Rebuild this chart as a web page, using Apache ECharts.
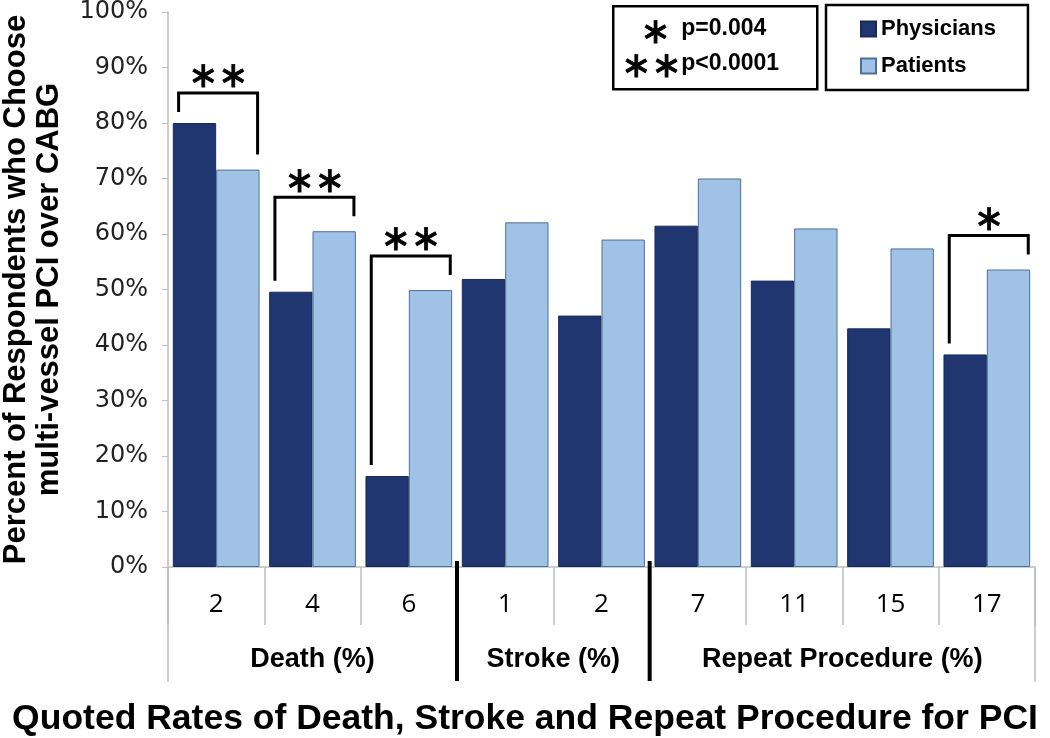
<!DOCTYPE html>
<html>
<head>
<meta charset="utf-8">
<script src="https://cdn.jsdelivr.net/npm/echarts@6/dist/echarts.min.js"></script>
<style>
  html, body { margin: 0; padding: 0; background: #fff; }
  #chart { width: 1050px; height: 738px; }
</style>
</head>
<body>
<div id="chart"></div>
<script>
// quoted rates (x categories) and groups
const categories = ['2', '4', '6', '1', '2', '7', '11', '15', '17'];
const groupNames = ['Death (%)', 'Stroke (%)', 'Repeat Procedure (%)'];
const groupStart = [0, 3, 5];
const groupEnd = [2, 4, 8];

// percent choosing multi-vessel PCI over CABG
const physicians = [80, 49.6, 16.4, 51.9, 45.3, 61.5, 51.6, 43, 38.3];
const patients = [71.6, 60.5, 49.9, 62.1, 59, 70, 61, 57.4, 53.6];

// significance brackets
const sigIndex = [0, 1, 2, 8];
const sigMarks = ['∗∗', '∗∗', '∗∗', '∗'];

const yTicks = [0, 10, 20, 30, 40, 50, 60, 70, 80, 90, 100];

const DARK = '#203670';
const LIGHT = '#a0c2e6';
const FONT = '"Liberation Sans", Arial, sans-serif';
const STAR_FONT = '"DejaVu Sans", sans-serif';

const chart = echarts.init(document.getElementById('chart'));

const option = {
  animation: false,
  backgroundColor: '#fff',
  title: {
    text: 'Quoted Rates of Death, Stroke and Repeat Procedure for PCI',
    left: 'center',
    top: 696,
    textStyle: { fontFamily: FONT, fontWeight: 'bold', fontSize: 35.5, color: '#000' }
  },
  legend: {
    data: ['Physicians', 'Patients'],
    orient: 'vertical',
    left: 826,
    top: 5,
    padding: [13, 32, 13, 34],
    itemGap: 15,
    itemWidth: 15,
    itemHeight: 15,
    borderColor: '#000',
    borderWidth: 2.5,
    icon: 'rect',
    textStyle: { fontFamily: FONT, fontWeight: 'bold', fontSize: 22, color: '#000' }
  },
  grid: { left: 168, right: 15, top: 12, bottom: 171, outerBoundsMode: 'none', containLabel: false },
  xAxis: {
    type: 'category',
    data: categories,
    axisLine: { lineStyle: { color: '#bdbdbd', width: 1.5 } },
    axisTick: { show: true, interval: 0, length: 58, lineStyle: { color: '#bdbdbd', width: 1.5 } },
    axisLabel: { interval: 0, margin: 25, fontFamily: '"Liberation Sans Narrow", "Open Sans", sans-serif', fontSize: 26, color: '#000' }
  },
  yAxis: {
    type: 'value',
    min: 0,
    max: 100,
    interval: 10,
    name: 'Percent of Respondents who Choose\nmulti-vessel PCI over CABG',
    nameLocation: 'middle',
    nameGap: 102,
    nameRotate: 90,
    nameTextStyle: { fontFamily: FONT, fontWeight: 'bold', fontSize: 31, lineHeight: 33, color: '#000' },
    axisLine: { show: true, lineStyle: { color: '#bdbdbd', width: 1.5 } },
    axisTick: { show: true, inside: false, length: 6, lineStyle: { color: '#bdbdbd' } },
    splitLine: { show: false },
    axisLabel: {
      margin: 20,
      fontFamily: '"DejaVu Sans", sans-serif',
      fontSize: 24,
      color: '#222',
      formatter: v => yTicks.indexOf(v) >= 0 ? v + '%' : ''
    }
  },
  series: [
    {
      name: 'Physicians',
      type: 'bar',
      data: physicians,
      barGap: '0%',
      barCategoryGap: '10%',
      itemStyle: { color: DARK, borderColor: '#172a5a', borderWidth: 1 }
    },
    {
      name: 'Patients',
      type: 'bar',
      data: patients,
      itemStyle: { color: LIGHT, borderColor: '#4d7096', borderWidth: 1 }
    },
    {
      name: 'sig',
      type: 'custom',
      silent: true,
      data: sigIndex.map(i => [i, physicians[i]]),
      z: 5,
      renderItem: function (params, api) {
        const idx = api.value(0);
        const cx = api.coord([idx, 0])[0];
        const bw = api.size([1, 0])[0];
        const yL = api.coord([idx, physicians[idx]])[1] - 11;
        const yR = api.coord([idx, patients[idx]])[1] - 15;
        const yT = Math.min(yL, yR) - 19;
        const xL = cx - 0.39 * bw;
        const xR = cx + 0.43 * bw;
        return {
          type: 'group',
          children: [
            {
              type: 'polyline',
              shape: { points: [[xL, yL], [xL, yT], [xR, yT], [xR, yR]] },
              style: { stroke: '#000', lineWidth: 3, fill: null }
            },
            {
              type: 'text',
              x: (xL + xR) / 2,
              y: yT - 15,
              style: {
                text: sigMarks[params.dataIndex],
                align: 'center',
                verticalAlign: 'middle',
                fontFamily: STAR_FONT,
                fontSize: 36,
                fill: '#000',
                stroke: '#000',
                lineWidth: 0.8
              }
            }
          ]
        };
      }
    }
  ]
};

chart.setOption(option);

// category-group rows, separators and the p-value key
const px = i => chart.convertToPixel({ xAxisIndex: 0 }, i);
const bandW = px(1) - px(0);
const y0 = chart.convertToPixel({ yAxisIndex: 0 }, 0);
const edge = i => px(i) + bandW / 2;

const graphics = [];
// outer borders of the category table
graphics.push({
  type: 'line', shape: { x1: px(0) - bandW / 2, y1: y0, x2: px(0) - bandW / 2, y2: y0 + 115 },
  style: { stroke: '#bdbdbd', lineWidth: 1.5 }
});
graphics.push({
  type: 'line', shape: { x1: edge(8), y1: y0, x2: edge(8), y2: y0 + 115 },
  style: { stroke: '#bdbdbd', lineWidth: 1.5 }
});
// thick group separators
for (let g = 0; g < groupEnd.length - 1; g++) {
  const x = edge(groupEnd[g]);
  graphics.push({
    type: 'line', z: 10, shape: { x1: x, y1: y0 - 6, x2: x, y2: y0 + 114 },
    style: { stroke: '#000', lineWidth: 4 }
  });
}
// group labels
groupNames.forEach((name, g) => {
  const x = (px(groupStart[g]) + px(groupEnd[g])) / 2;
  graphics.push({
    type: 'text', x: x, y: y0 + 93,
    style: {
      text: name, align: 'center', verticalAlign: 'middle',
      fontFamily: FONT, fontWeight: 'bold', fontSize: 27, fill: '#000'
    }
  });
});
// p-value key box
graphics.push({
  type: 'group', left: 612, top: 5,
  children: [
    { type: 'rect', shape: { x: 0, y: 0, width: 204, height: 83 }, style: { fill: '#fff', stroke: '#000', lineWidth: 2.5 } },
    { type: 'text', x: 42, y: 27, style: { text: '∗', align: 'center', verticalAlign: 'middle', fontFamily: STAR_FONT, fontSize: 36, fill: '#000', stroke: '#000', lineWidth: 0.8 } },
    { type: 'text', x: 68, y: 22, style: { text: 'p=0.004', align: 'left', verticalAlign: 'middle', fontFamily: FONT, fontWeight: 'bold', fontSize: 23, fill: '#000' } },
    { type: 'text', x: 38, y: 61, style: { text: '∗∗', align: 'center', verticalAlign: 'middle', fontFamily: STAR_FONT, fontSize: 36, fill: '#000', stroke: '#000', lineWidth: 0.8 } },
    { type: 'text', x: 68, y: 57, style: { text: 'p<0.0001', align: 'left', verticalAlign: 'middle', fontFamily: FONT, fontWeight: 'bold', fontSize: 23, fill: '#000' } }
  ]
});

chart.setOption({ graphic: graphics });
</script>
</body>
</html>
